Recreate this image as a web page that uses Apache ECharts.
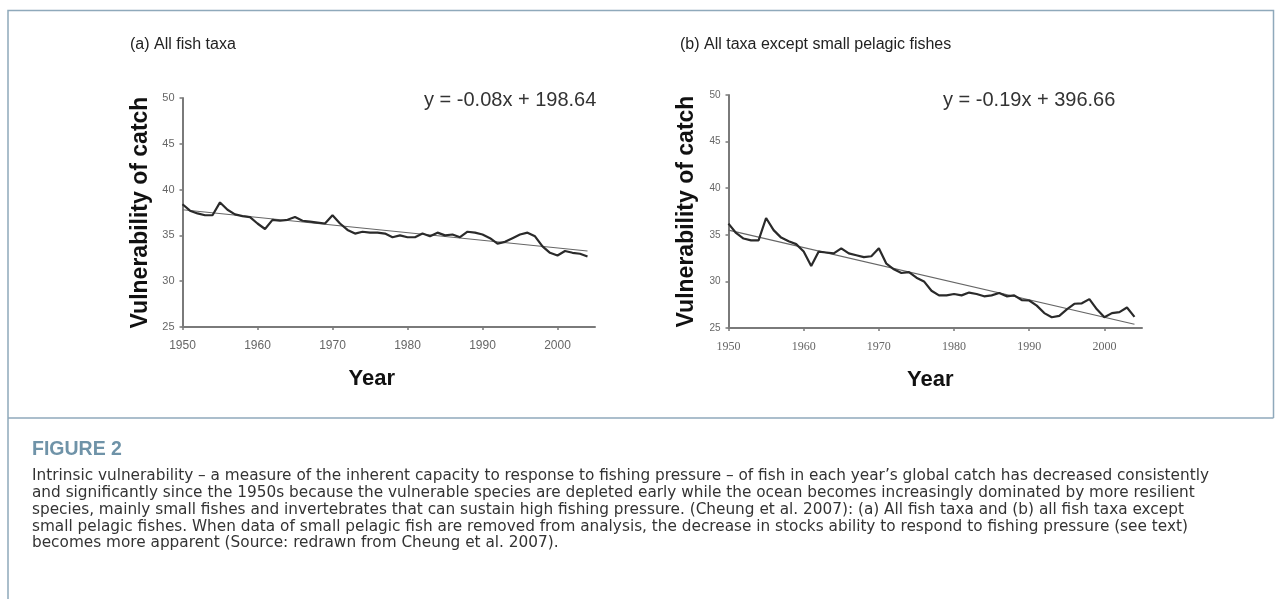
<!DOCTYPE html>
<html>
<head>
<meta charset="utf-8">
<script src="https://cdn.jsdelivr.net/npm/echarts@6/dist/echarts.min.js"></script>
<style>
  html, body { margin: 0; padding: 0; background: #fff; }
  #chart { width: 1275px; height: 599px; }
</style>
</head>
<body>
<div id="chart"></div>
<script>
  // years on the x axis (same for both panels)
  const years = [1950,1951,1952,1953,1954,1955,1956,1957,1958,1959,
                 1960,1961,1962,1963,1964,1965,1966,1967,1968,1969,
                 1970,1971,1972,1973,1974,1975,1976,1977,1978,1979,
                 1980,1981,1982,1983,1984,1985,1986,1987,1988,1989,
                 1990,1991,1992,1993,1994,1995,1996,1997,1998,1999,
                 2000,2001,2002,2003,2004];
  // (a) all fish taxa
  const vulnAll = [38.4,37.7,37.4,37.2,37.2,38.6,37.8,37.3,37.1,37.0,
                   36.3,35.7,36.7,36.6,36.7,37.0,36.6,36.5,36.4,36.3,
                   37.2,36.3,35.6,35.2,35.4,35.3,35.3,35.2,34.8,35.0,
                   34.8,34.8,35.2,34.9,35.3,35.0,35.1,34.8,35.4,35.3,
                   35.1,34.7,34.1,34.3,34.7,35.1,35.3,34.9,33.8,33.1,
                   32.8,33.3,33.1,33.0,32.7];
  // (b) all taxa except small pelagics
  const vulnNoPelagic = [36.2,35.2,34.6,34.4,34.4,36.8,35.5,34.7,34.3,34.0,
                         33.2,31.65,33.2,33.1,33.0,33.55,33.0,32.8,32.6,32.7,
                         33.55,31.9,31.3,30.9,31.0,30.4,30.0,29.0,28.5,28.5,
                         28.65,28.5,28.8,28.65,28.4,28.5,28.75,28.4,28.5,28.0,
                         27.95,27.4,26.6,26.15,26.3,27.0,27.6,27.65,28.1,27.0,
                         26.15,26.6,26.7,27.2,26.2];
  // linear trend lines (end points as drawn)
  const trendYears = [1950, 2004];
  const trendAll = [37.8, 33.3];
  const trendNoPelagic = [35.5, 25.4];

  const xTicks = [1950,1960,1970,1980,1990,2000];

  const captionLines = [
    "Intrinsic vulnerability \u2013 a measure of the inherent capacity to response to fishing pressure \u2013 of fish in each year\u2019s global catch has decreased consistently",
    "and significantly since the 1950s because the vulnerable species are depleted early while the ocean becomes increasingly dominated by more resilient",
    "species, mainly small fishes and invertebrates that can sustain high fishing pressure. (Cheung et al. 2007): (a) All fish taxa and (b) all fish taxa except",
    "small pelagic fishes. When data of small pelagic fish are removed from analysis, the decrease in stocks ability to respond to fishing pressure (see text)",
    "becomes more apparent (Source: redrawn from Cheung et al. 2007)."
  ];

  const pair = (xs, ys) => xs.map((x, i) => [x, ys[i]]);

  function makeX(idx, labelFont, namePad){
    return {
      gridIndex: idx,
      type: "value",
      min: 1950,
      max: 2005,
      name: "Year",
      nameLocation: "middle",
      nameGap: 41,
      nameTextStyle: {
        fontFamily: "Liberation Sans",
        fontWeight: "bold",
        fontSize: 22,
        color: "#111",
        padding: namePad
      },
      axisLine: { lineStyle: { color: "#7a7a7a", width: 2 } },
      axisTick: { customValues: xTicks, length: 3, lineStyle: { color: "#7a7a7a", width: 1.5 } },
      axisLabel: {
        customValues: xTicks,
        formatter: v => String(v),
        fontFamily: labelFont,
        fontSize: 12,
        color: "#666",
        margin: 13
      },
      splitLine: { show: false }
    };
  }
  function makeY(idx, labelSize){
    return {
      gridIndex: idx,
      type: "value",
      min: 25,
      max: 50,
      interval: 5,
      name: "Vulnerability of catch",
      nameLocation: "middle",
      nameGap: 30,
      nameTextStyle: {
        fontFamily: "Liberation Sans",
        fontWeight: "bold",
        fontSize: 23,
        color: "#111"
      },
      axisLine: { show: true, lineStyle: { color: "#7a7a7a", width: 2 } },
      axisTick: { show: true, length: 3, lineStyle: { color: "#7a7a7a", width: 1.5 } },
      axisLabel: { fontFamily: "Liberation Sans", fontSize: labelSize, color: "#666", margin: 8 },
      splitLine: { show: false }
    };
  }

  const chart = echarts.init(document.getElementById("chart"));
  const option = {
    animation: false,
    backgroundColor: "#fff",
    title: [
      { text: "(a) All fish taxa", left: 130, top: 37, padding: 0,
        textStyle: { fontFamily: "Liberation Sans", fontWeight: "normal", fontSize: 16, color: "#222" } },
      { text: "(b) All taxa except small pelagic fishes", left: 680, top: 37, padding: 0,
        textStyle: { fontFamily: "Liberation Sans", fontWeight: "normal", fontSize: 16, color: "#222" } },
      { text: "y = -0.08x + 198.64", left: 424, top: 90, padding: 0,
        textStyle: { fontFamily: "Liberation Sans", fontWeight: "normal", fontSize: 20, color: "#333" } },
      { text: "y = -0.19x + 396.66", left: 943, top: 90, padding: 0,
        textStyle: { fontFamily: "Liberation Sans", fontWeight: "normal", fontSize: 20, color: "#333" } }
    ],
    grid: [
      { left: 182.5, top: 98, width: 412.5, height: 229 },
      { left: 728.5, top: 95, width: 413.5, height: 233 }
    ],
    xAxis: [ makeX(0, "Liberation Sans", [0, 34, 0, 0]), makeX(1, "Liberation Serif", [0, 10, 0, 0]) ],
    yAxis: [ makeY(0, 11), makeY(1, 10) ],
    series: [
      { type: "line", xAxisIndex: 0, yAxisIndex: 0, data: pair(trendYears, trendAll),
        symbol: "none", lineStyle: { color: "#666", width: 1.2 }, z: 2 },
      { type: "line", xAxisIndex: 0, yAxisIndex: 0, data: pair(years, vulnAll),
        symbol: "none", lineStyle: { color: "#2a2a2a", width: 2.2 }, z: 3 },
      { type: "line", xAxisIndex: 1, yAxisIndex: 1, data: pair(trendYears, trendNoPelagic),
        symbol: "none", lineStyle: { color: "#666", width: 1.2 }, z: 2 },
      { type: "line", xAxisIndex: 1, yAxisIndex: 1, data: pair(years, vulnNoPelagic),
        symbol: "none", lineStyle: { color: "#2a2a2a", width: 2.2 }, z: 3 }
    ],
    graphic: [
      { type: "polyline", silent: true,
        shape: { points: [[8, 599], [8, 10.5], [1273.5, 10.5], [1273.5, 418]] },
        style: { stroke: "#8fa9bb", lineWidth: 1.5, fill: null } },
      { type: "line", silent: true,
        shape: { x1: 8, y1: 418, x2: 1273.5, y2: 418 },
        style: { stroke: "#8fa9bb", lineWidth: 1.5 } },
      { type: "text", silent: true, x: 32, y: 450,
        style: { text: "FIGURE 2", fill: "#6f93a8", fontFamily: "Liberation Sans",
                 fontWeight: "bold", fontSize: 19.5, verticalAlign: "middle" } }
    ].concat(captionLines.map((t, i) => ({
      type: "text", silent: true, x: 32, y: 476.5 + i * 16.7,
      style: { text: t, fill: "#333", fontFamily: "DejaVu Sans", fontSize: 15.3, verticalAlign: "middle" }
    })))
  };
  chart.setOption(option);
</script>
</body>
</html>
